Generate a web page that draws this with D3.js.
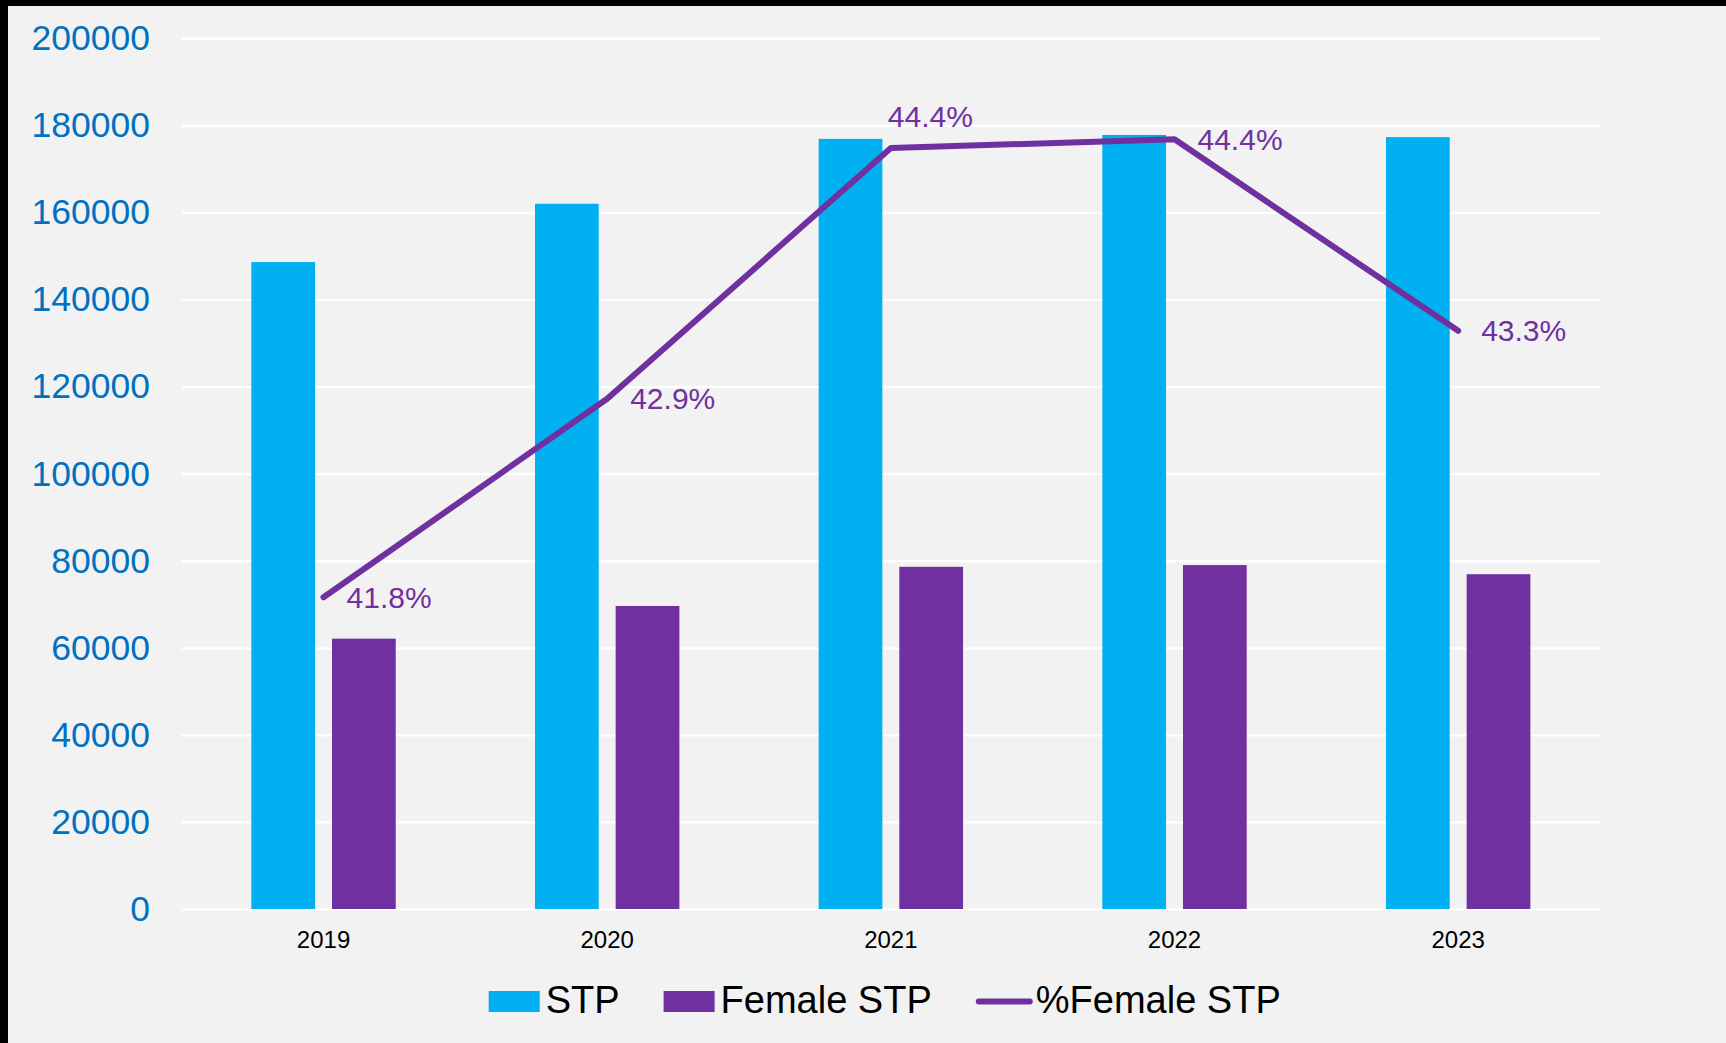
<!DOCTYPE html>
<html>
<head>
<meta charset="utf-8">
<script src="https://cdn.jsdelivr.net/npm/d3@7"></script>
<style>
  body { margin: 0; background: #f2f2f2; }
  svg { display: block; font-family: 'Liberation Sans', Arial, sans-serif; }
</style>
</head>
<body>
<svg width="1726" height="1043"></svg>
<script>
// chart data
let years = ['2019', '2020', '2021', '2022', '2023'];
let stp = [148600, 162000, 176900, 177800, 177300];
let femaleStp = [62100, 69600, 78600, 79000, 76900];
let pctFemale = [41.79, 42.93, 44.37, 44.42, 43.32];
let yTicks = [0, 20000, 40000, 60000, 80000, 100000, 120000, 140000, 160000, 180000, 200000];
let seriesNames = ['STP', 'Female STP', '%Female STP'];

let svg = d3.select('svg');
let width = +svg.attr('width');
let height = +svg.attr('height');

let margin = { top: 38.3, right: 126, bottom: 134, left: 181.7 };
let colors = { stp: '#00b0f0', female: '#7030a0', tick: '#0070c0' };

svg.append('rect')
    .attr('width', width)
    .attr('height', height)
    .attr('fill', '#f2f2f2');

// black frame at top and left
svg.append('rect').attr('x', 0).attr('y', 0).attr('width', width).attr('height', 6).attr('fill', '#000');
svg.append('rect').attr('x', 0).attr('y', 0).attr('width', 8).attr('height', height).attr('fill', '#000');

let x = d3.scaleBand()
    .domain(years)
    .range([margin.left, width - margin.right]);

let inner = d3.scaleBand()
    .domain(['stp', 'female'])
    .range([-72.2, 72.2])
    .paddingInner(0.21);

let y = d3.scaleLinear()
    .domain([0, 200000])
    .range([height - margin.bottom, margin.top]);

let y2 = d3.scaleLinear()
    .domain([40, 45])
    .range([height - margin.bottom, margin.top]);

// y axis + gridlines
let yAxis = svg.append('g')
    .attr('transform', 'translate(' + margin.left + ',0)')
    .call(d3.axisLeft(y)
        .tickValues(yTicks)
        .tickFormat(d3.format('d'))
        .tickSize(-(width - margin.right - margin.left))
        .tickPadding(31.7));

yAxis.select('.domain').remove();
yAxis.selectAll('line').attr('stroke', '#ffffff').attr('stroke-width', 2.2);
yAxis.selectAll('text')
    .attr('fill', colors.tick)
    .style('font-size', '35.5px');

// bars
let groups = svg.selectAll('.year')
    .data(years)
    .enter().append('g')
    .attr('class', 'year')
    .attr('transform', d => 'translate(' + (x(d) + x.bandwidth() / 2) + ',0)');

groups.append('rect')
    .attr('x', inner('stp'))
    .attr('width', inner.bandwidth())
    .attr('y', (d, i) => y(stp[i]))
    .attr('height', (d, i) => y(0) - y(stp[i]))
    .attr('fill', colors.stp);

groups.append('rect')
    .attr('x', inner('female'))
    .attr('width', inner.bandwidth())
    .attr('y', (d, i) => y(femaleStp[i]))
    .attr('height', (d, i) => y(0) - y(femaleStp[i]))
    .attr('fill', colors.female);

// x axis labels
let xAxis = svg.append('g')
    .attr('transform', 'translate(0,' + (height - margin.bottom) + ')')
    .call(d3.axisBottom(x).tickSize(0).tickPadding(22));

xAxis.select('.domain').remove();
xAxis.selectAll('text')
    .attr('fill', '#000')
    .style('font-size', '24px');

// percentage line
let line = d3.line()
    .x((d, i) => x(years[i]) + x.bandwidth() / 2)
    .y(d => y2(d));

svg.append('path')
    .datum(pctFemale)
    .attr('d', line)
    .attr('fill', 'none')
    .attr('stroke', colors.female)
    .attr('stroke-width', 6)
    .attr('stroke-linecap', 'round')
    .attr('stroke-linejoin', 'round');

let labelPos = ['right', 'right', 'above', 'right', 'right'];

svg.selectAll('.pct')
    .data(pctFemale)
    .enter().append('text')
    .attr('class', 'pct')
    .attr('x', (d, i) => x(years[i]) + x.bandwidth() / 2 + (labelPos[i] === 'above' ? -3 : 23))
    .attr('y', (d, i) => y2(d) + (labelPos[i] === 'above' ? -21 : 10.5))
    .attr('fill', colors.female)
    .style('font-size', '30px')
    .text(d => d.toFixed(1) + '%');

// legend
let legend = svg.append('g').attr('transform', 'translate(0,1013)');
let lx = 488.7;

seriesNames.forEach((name, i) => {
    if (i < 2) {
        legend.append('rect')
            .attr('x', lx)
            .attr('y', -22)
            .attr('width', 51)
            .attr('height', 21)
            .attr('fill', i === 0 ? colors.stp : colors.female);
        lx += 57;
    } else {
        legend.append('line')
            .attr('x1', lx + 3)
            .attr('x2', lx + 54)
            .attr('y1', -11.5)
            .attr('y2', -11.5)
            .attr('stroke', colors.female)
            .attr('stroke-width', 6)
            .attr('stroke-linecap', 'round');
        lx += 60;
    }
    let t = legend.append('text')
        .attr('x', lx)
        .attr('y', 0)
        .attr('fill', '#000')
        .style('font-size', '38px')
        .text(name);
    lx += t.node().getComputedTextLength() + 44;
});
</script>
</body>
</html>
